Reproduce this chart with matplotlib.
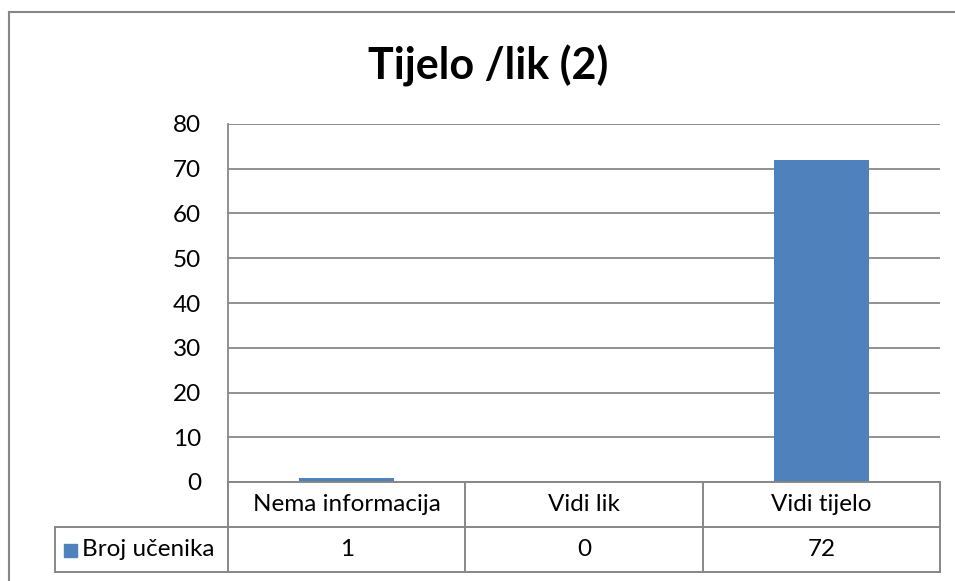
import matplotlib
matplotlib.use("Agg")
import matplotlib.pyplot as plt
from matplotlib.patches import Rectangle

plt.rcParams['font.family'] = ['Lato', 'DejaVu Sans']

title = "Tijelo /lik (2)"
categories = ["Nema informacija", "Vidi lik", "Vidi tijelo"]
series_name = "Broj učenika"
values = [1, 0, 72]
yticks = [0, 10, 20, 30, 40, 50, 60, 70, 80]

W, H = 955, 581
fig = plt.figure(figsize=(W / 100, H / 100), dpi=100)

bar_color = "#4F81BD"
grid_color = "#888888"
font_size = 17.5

# plot area in pixels
L, R, T, B = 228, 940, 124, 482
ax = fig.add_axes([L / W, 1 - B / H, (R - L) / W, (B - T) / H])
x = list(range(len(categories)))
ax.bar(x, values, width=0.4, color=bar_color, zorder=3)
ax.set_xlim(-0.5, len(categories) - 0.5)
ax.set_ylim(0, 80)
ax.set_yticks(yticks)
ax.set_yticklabels([str(t) for t in yticks], fontsize=font_size)
ax.set_xticks([])
ax.tick_params(axis='y', length=0, pad=19.5)
ax.yaxis.grid(True, color=grid_color, linewidth=1.3, zorder=0)
for s in ["top", "right", "bottom"]:
    ax.spines[s].set_visible(False)
ax.spines["left"].set_color(grid_color)
ax.spines["left"].set_linewidth(1.3)

# overlay in pixel coordinates for the data table and frame
ov = fig.add_axes([0, 0, 1, 1], zorder=5)
ov.set_xlim(0, W)
ov.set_ylim(H, 0)
ov.axis("off")
ov.patch.set_alpha(0)

lc = "#878787"
lw = 1.4
# outer frame (left + top, extends beyond image)
ov.plot([9, W + 5], [12, 12], color=lc, lw=1.5)
ov.plot([9, 9], [12, H + 5], color=lc, lw=1.5)

n = len(categories)
cw = (R - L) / n
row_h = 45
r1t, r1b = B, B + row_h
r2b = r1b + row_h
legL = 55
# horizontal lines
ov.plot([L, R], [r1t, r1t], color=lc, lw=lw)
ov.plot([legL, R], [r1b, r1b], color=lc, lw=lw)
ov.plot([legL, R], [r2b, r2b], color=lc, lw=lw)
# vertical lines
for i in range(n + 1):
    ov.plot([L + i * cw, L + i * cw], [r1t, r2b], color=lc, lw=lw)
ov.plot([legL, legL], [r1b, r2b], color=lc, lw=lw)

for i, (c, v) in enumerate(zip(categories, values)):
    cx = L + (i + 0.5) * cw
    ov.text(cx, (r1t + r1b) / 2, c, ha="center", va="center", fontsize=font_size)
    ov.text(cx, (r1b + r2b) / 2, str(v), ha="center", va="center", fontsize=font_size)

ov.add_patch(Rectangle((64, (r1b + r2b) / 2 - 6), 13, 13, color=bar_color))
ov.text(82, (r1b + r2b) / 2, series_name, ha="left", va="center", fontsize=font_size)

ov.text(488, 66, title, ha="center", va="center", fontsize=31, fontweight="bold")

fig.savefig("out.png", dpi=100)
